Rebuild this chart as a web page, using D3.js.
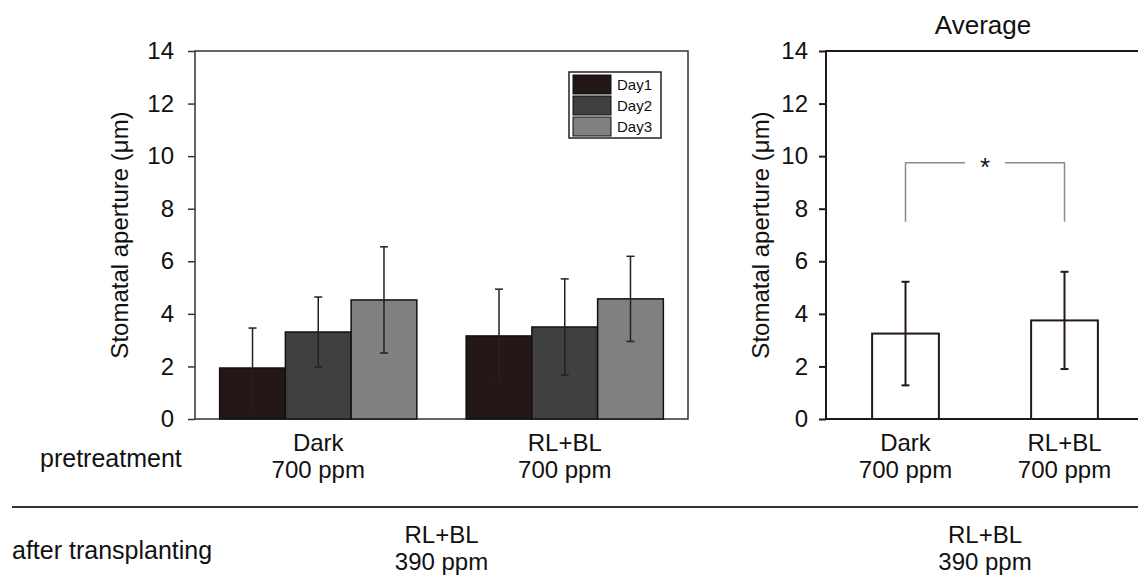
<!DOCTYPE html>
<html>
<head>
<meta charset="utf-8">
<script src="https://cdn.jsdelivr.net/npm/d3@7"></script>
<style>
  body { margin: 0; background: #fff; }
  text { font-family: "Liberation Sans", Arial, sans-serif; fill: #111; }
</style>
</head>
<body>
<div id="chart"></div>
<script>
  // values
  let categories = ["Dark", "RL+BL"];
  let catSub = ["700 ppm", "700 ppm"];
  let days = ["Day1", "Day2", "Day3"];
  let dayColors = ["#231815", "#404040", "#808080"];
  let dayMeans = [[1.94, 3.31, 4.53], [3.16, 3.50, 4.57]];
  let daySD = [[1.52, 1.33, 2.02], [1.78, 1.83, 1.62]];
  let avgMeans = [3.25, 3.75];
  let avgSD = [1.97, 1.85];
  let yTicks = [0, 2, 4, 6, 8, 10, 12, 14];
  let sigTop = 9.75, sigFoot = 7.5;

  let width = 1138, height = 576;
  let svg = d3.select("#chart").append("svg")
    .attr("width", width)
    .attr("height", height);

  let yScale = d3.scaleLinear().domain([0, 14]).range([419, 51]);

  // draws frame + y axis + label for one panel
  function drawFrame(x0, x1, tickPad, labelX, strokeW, frameColor) {
    svg.append("rect")
      .attr("x", x0).attr("y", yScale(14))
      .attr("width", x1 - x0).attr("height", yScale(0) - yScale(14))
      .attr("fill", "none")
      .attr("stroke", frameColor)
      .attr("stroke-width", strokeW);

    let ax = svg.append("g")
      .attr("transform", "translate(" + x0 + ",0)")
      .call(d3.axisLeft(yScale).tickValues(yTicks).tickSize(7).tickPadding(tickPad).tickSizeOuter(0));
    ax.select(".domain").remove();
    ax.selectAll("line").attr("stroke", frameColor).attr("stroke-width", strokeW);
    ax.selectAll("text")
      .style("font-size", "24px")
      .style("font-family", "'Liberation Sans', Arial, sans-serif")
      .attr("fill", "#111");

    svg.append("text")
      .attr("transform", "translate(" + labelX + "," + (yScale(7)) + ")rotate(-90)")
      .attr("text-anchor", "middle")
      .attr("dy", "0.35em")
      .style("font-size", "24px")
      .text("Stomatal aperture (\u03bcm)");
  }

  function errorBar(g, cx, mean, sd, color, w) {
    g.append("line")
      .attr("x1", cx).attr("x2", cx)
      .attr("y1", yScale(mean + sd)).attr("y2", yScale(mean - sd))
      .attr("stroke", color).attr("stroke-width", w);
    [mean + sd, mean - sd].forEach(v => {
      g.append("line")
        .attr("x1", cx - 4).attr("x2", cx + 4)
        .attr("y1", yScale(v)).attr("y2", yScale(v))
        .attr("stroke", color).attr("stroke-width", w);
    });
  }

  function catLabels(xs, band) {
    categories.forEach((c, i) => {
      let cx = xs(c) + band / 2;
      svg.append("text").attr("x", cx).attr("y", 451)
        .attr("text-anchor", "middle").style("font-size", "24px").text(c);
      svg.append("text").attr("x", cx).attr("y", 478)
        .attr("text-anchor", "middle").style("font-size", "24px").text(catSub[i]);
    });
  }

  ////////// left panel: per day
  let lx0 = 195, lx1 = 688;
  drawFrame(lx0, lx1, 14, 120, 1.5, "#333");

  let xLeft = d3.scaleBand()
    .domain(categories)
    .range([lx0, lx1])
    .paddingInner(0.2)
    .paddingOuter(0.1);
  let xDay = d3.scaleBand()
    .domain(days)
    .range([0, xLeft.bandwidth()]);

  let left = svg.append("g");
  categories.forEach((c, i) => {
    days.forEach((d, j) => {
      let bx = xLeft(c) + xDay(d);
      left.append("rect")
        .attr("x", bx)
        .attr("y", yScale(dayMeans[i][j]))
        .attr("width", xDay.bandwidth())
        .attr("height", yScale(0) - yScale(dayMeans[i][j]))
        .attr("fill", dayColors[j])
        .attr("stroke", "#111")
        .attr("stroke-width", 1.5);
    });
  });
  categories.forEach((c, i) => {
    days.forEach((d, j) => {
      let cx = xLeft(c) + xDay(d) + xDay.bandwidth() / 2;
      errorBar(left, cx, dayMeans[i][j], daySD[i][j], "#2a1e1b", 1.5);
    });
  });
  catLabels(xLeft, xLeft.bandwidth());

  // legend
  let legend = svg.append("g").attr("transform", "translate(569,72)");
  legend.append("rect")
    .attr("width", 92).attr("height", 66)
    .attr("fill", "#fff").attr("stroke", "#222").attr("stroke-width", 1.5);
  days.forEach((d, j) => {
    legend.append("rect")
      .attr("x", 4).attr("y", 3 + j * 21)
      .attr("width", 38).attr("height", 19)
      .attr("fill", dayColors[j])
      .attr("stroke", "#111").attr("stroke-width", 1);
    legend.append("text")
      .attr("x", 48).attr("y", 18 + j * 21)
      .style("font-size", "15px")
      .text(d);
  });

  ////////// right panel: average
  let rx0 = 826, rx1 = 1144;
  drawFrame(rx0, rx1, 11, 761, 2, "#231815");

  let xRight = d3.scaleBand()
    .domain(categories)
    .range([rx0, rx1])
    .paddingInner(0.58)
    .paddingOuter(0.29);

  let right = svg.append("g");
  categories.forEach((c, i) => {
    right.append("rect")
      .attr("x", xRight(c))
      .attr("y", yScale(avgMeans[i]))
      .attr("width", xRight.bandwidth())
      .attr("height", yScale(0) - yScale(avgMeans[i]))
      .attr("fill", "#fff")
      .attr("stroke", "#231815")
      .attr("stroke-width", 2);
    errorBar(right, xRight(c) + xRight.bandwidth() / 2, avgMeans[i], avgSD[i], "#231815", 2);
  });

  // significance bracket
  let bxA = xRight(categories[0]) + xRight.bandwidth() / 2;
  let bxB = xRight(categories[1]) + xRight.bandwidth() / 2;
  let bMid = (bxA + bxB) / 2;
  let bracket = svg.append("g")
    .attr("fill", "none")
    .attr("stroke", "#8a8a8a")
    .attr("stroke-width", 1.5);
  bracket.append("path")
    .attr("d", "M" + bxA + "," + yScale(sigFoot) + "V" + yScale(sigTop) + "H" + (bMid - 20));
  bracket.append("path")
    .attr("d", "M" + (bMid + 20) + "," + yScale(sigTop) + "H" + bxB + "V" + yScale(sigFoot));
  svg.append("text")
    .attr("x", bMid).attr("y", yScale(sigTop) + 13)
    .attr("text-anchor", "middle")
    .style("font-size", "26px")
    .text("*");

  catLabels(xRight, xRight.bandwidth());

  svg.append("text")
    .attr("x", 983).attr("y", 34)
    .attr("text-anchor", "middle")
    .style("font-size", "26px")
    .text("Average");

  ////////// treatment rows
  svg.append("text").attr("x", 40).attr("y", 467)
    .style("font-size", "25px").text("pretreatment");

  svg.append("line")
    .attr("x1", 12).attr("x2", width)
    .attr("y1", 507).attr("y2", 507)
    .attr("stroke", "#333").attr("stroke-width", 2);

  svg.append("text").attr("x", 12).attr("y", 559)
    .style("font-size", "25px").text("after transplanting");

  [(lx0 + lx1) / 2, (rx0 + rx1) / 2].forEach(cx => {
    svg.append("text").attr("x", cx).attr("y", 543)
      .attr("text-anchor", "middle").style("font-size", "24px").text("RL+BL");
    svg.append("text").attr("x", cx).attr("y", 570)
      .attr("text-anchor", "middle").style("font-size", "24px").text("390 ppm");
  });
</script>
</body>
</html>
